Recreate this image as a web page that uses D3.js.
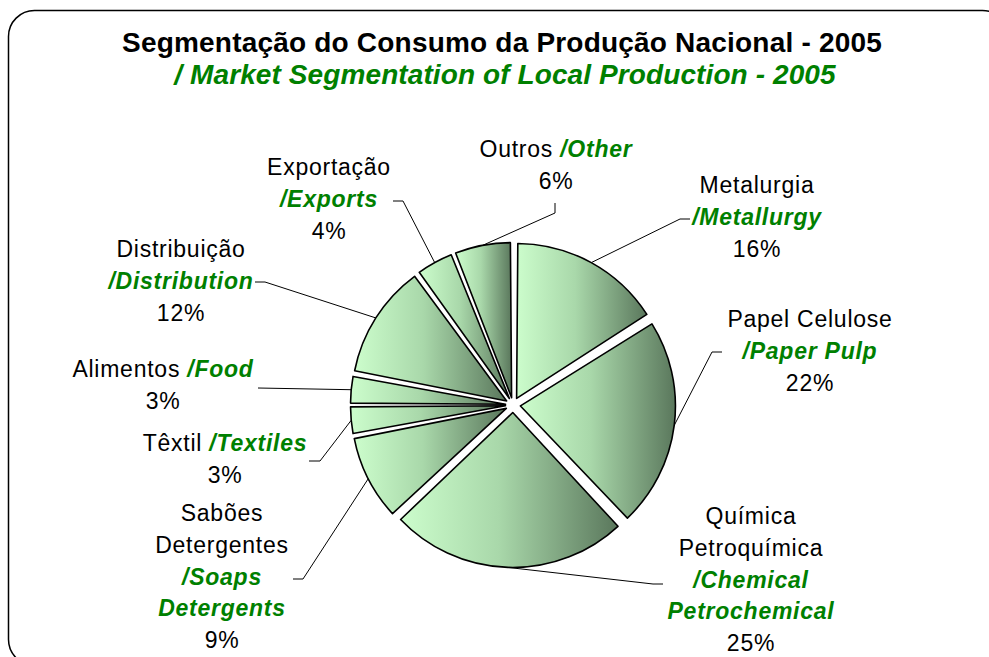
<!DOCTYPE html>
<html>
<head>
<meta charset="utf-8">
<script src="https://cdn.jsdelivr.net/npm/d3@7"></script>
<style>
  html, body { margin: 0; padding: 0; background: #fff; }
  svg { display: block; }
</style>
</head>
<body>
<svg id="chart" width="989" height="657"></svg>
<script>
// ---- data ----
const categoriesPt = ["Metalurgia", "Papel Celulose", "Química Petroquímica", "Sabões Detergentes", "Têxtil", "Alimentos", "Distribuição", "Exportação", "Outros"];
const categoriesEn = ["Metallurgy", "Paper Pulp", "Chemical Petrochemical", "Soaps Detergents", "Textiles", "Food", "Distribution", "Exports", "Other"];
const values = [16, 22, 25, 9, 3, 3, 12, 4, 6];
const titlePt = "Segmentação do Consumo da Produção Nacional - 2005";
const titleEn = "/ Market Segmentation of Local Production - 2005";

// ---- label layout (text lines: segments [text, isEnglish]) ----
const labelLayout = [
  { x: 757, y: 193, lines: [[["Metalurgia", false]], [["/Metallurgy", true]], [["%", false]]], leader: [[680, 219], [690, 219]] },
  { x: 810, y: 327, lines: [[["Papel Celulose", false]], [["/Paper Pulp", true]], [["%", false]]], leader: [[712, 352], [722, 352]] },
  { x: 751, y: 524, lines: [[["Química", false]], [["Petroquímica", false]], [["/Chemical", true]], [["Petrochemical", true]], [["%", false]]], leader: [[653, 584], [663, 584]] },
  { x: 222, y: 521, lines: [[["Sabões", false]], [["Detergentes", false]], [["/Soaps", true]], [["Detergents", true]], [["%", false]]], leader: [[303, 579], [293, 579]] },
  { x: 225, y: 451, lines: [[["Têxtil ", false], ["/Textiles", true]], [["%", false]]], leader: [[320, 461], [309, 461]] },
  { x: 163, y: 377, lines: [[["Alimentos ", false], ["/Food", true]], [["%", false]]], leader: [[258, 388]] },
  { x: 181, y: 257, lines: [[["Distribuição", false]], [["/Distribution", true]], [["%", false]]], leader: [[265, 282], [255, 282]] },
  { x: 329, y: 175, lines: [[["Exportação", false]], [["/Exports", true]], [["%", false]]], leader: [[403, 201], [393, 201]] },
  { x: 556, y: 157, lines: [[["Outros ", false], ["/Other", true]], [["%", false]]], leader: [[555, 213], [555, 203]] }
];

const svg = d3.select("#chart");
const cx = 513, cy = 405, R = 155, explode = 7.5;
const green = "#008000";
const font = "'Liberation Sans', Arial, Helvetica, sans-serif";

// border
svg.append("rect")
  .attr("x", 8.5).attr("y", 10.5).attr("width", 1000).attr("height", 655)
  .attr("rx", 26).attr("ry", 26)
  .attr("fill", "none").attr("stroke", "#000").attr("stroke-width", 1.5);

// gradient
const defs = svg.append("defs");
const grad = defs.append("linearGradient").attr("id", "sliceGrad")
  .attr("x1", "0").attr("y1", "0").attr("x2", "1").attr("y2", "0");
grad.append("stop").attr("offset", "0").attr("stop-color", "#ccfdcc");
grad.append("stop").attr("offset", "0.45").attr("stop-color", "#a9d8aa");
grad.append("stop").attr("offset", "1").attr("stop-color", "#5a775c");

// titles
svg.append("text")
  .attr("x", 502).attr("y", 52).attr("text-anchor", "middle")
  .style("font-family", font).style("font-size", "28px").style("font-weight", "bold")
  .style("letter-spacing", "0.2px")
  .attr("fill", "#000").text(titlePt);
svg.append("text")
  .attr("x", 505).attr("y", 84).attr("text-anchor", "middle")
  .style("font-family", font).style("font-size", "28px").style("font-weight", "bold").style("font-style", "italic")
  .style("letter-spacing", "0.1px")
  .attr("fill", green).text(titleEn);

// pie
const pie = d3.pie().sort(null).value(d => d).startAngle(0).endAngle(2 * Math.PI);
const arcs = pie(values);
const arc = d3.arc().innerRadius(0).outerRadius(R).padAngle(2.4 / R).padRadius(R);

const offsetOf = d => {
  const mid = (d.startAngle + d.endAngle) / 2;
  return [Math.sin(mid) * explode, -Math.cos(mid) * explode];
};

const g = svg.append("g").attr("transform", `translate(${cx},${cy})`);

// leader lines
arcs.forEach((d, i) => {
  const mid = (d.startAngle + d.endAngle) / 2;
  const [ox, oy] = offsetOf(d);
  const sx = cx + ox + Math.sin(mid) * R;
  const sy = cy + oy - Math.cos(mid) * R;
  const pts = [[sx, sy]].concat(labelLayout[i].leader);
  svg.append("path")
    .attr("d", d3.line()(pts))
    .attr("fill", "none").attr("stroke", "#000").attr("stroke-width", 1);
});

g.selectAll("path.slice")
  .data(arcs)
  .join("path")
  .attr("class", "slice")
  .attr("transform", d => `translate(${offsetOf(d)[0]},${offsetOf(d)[1]})`)
  .attr("d", arc)
  .attr("fill", "url(#sliceGrad)")
  .attr("stroke", "#000")
  .attr("stroke-width", 1.6)
  .attr("stroke-linejoin", "round");

// labels
const total = d3.sum(values);
arcs.forEach((d, i) => {
  const L = labelLayout[i];
  const t = svg.append("text")
    .attr("text-anchor", "middle")
    .style("font-family", font).style("font-size", "23px").style("letter-spacing", "0.75px");
  L.lines.forEach((line, li) => {
    line.forEach((seg, si) => {
      let txt = seg[0];
      if (txt === "%") txt = Math.round(values[i] / total * 100) + "%";
      const ts = t.append("tspan").text(txt);
      if (si === 0) ts.attr("x", L.x).attr("y", L.y + li * 31.8);
      if (seg[1]) ts.attr("fill", green).style("font-weight", "bold").style("font-style", "italic");
      else ts.attr("fill", "#000");
    });
  });
});
</script>
</body>
</html>
